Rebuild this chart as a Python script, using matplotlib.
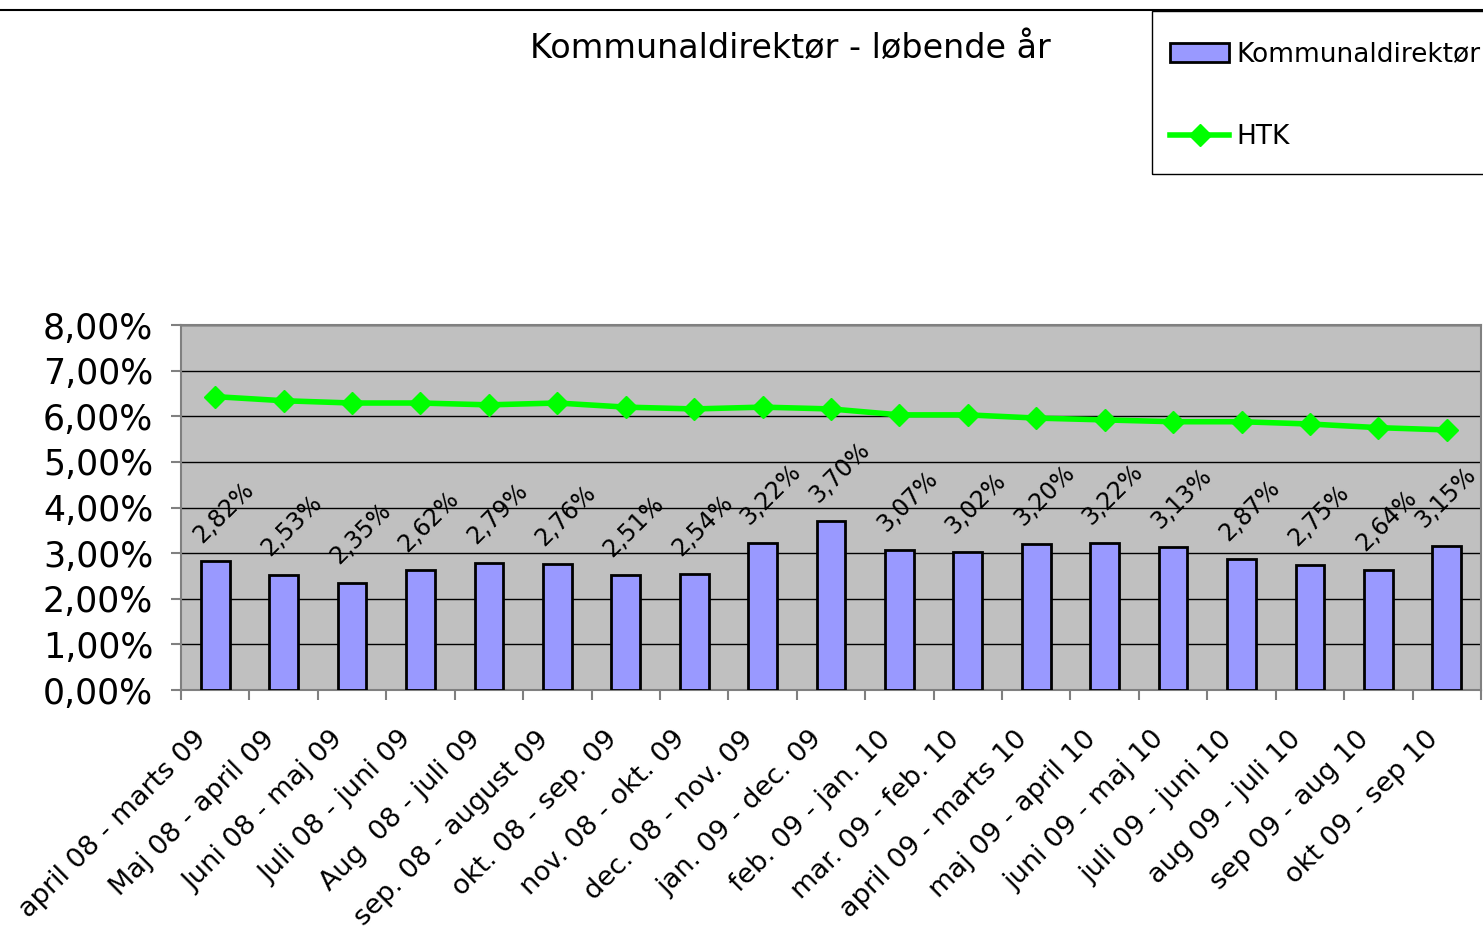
import matplotlib
matplotlib.use("Agg")
import matplotlib.pyplot as plt
from matplotlib.lines import Line2D
from matplotlib.patches import Patch, Rectangle
from matplotlib.transforms import ScaledTranslation
import numpy as np

categories = ["april 08 - marts 09", "Maj 08 - april 09", "Juni 08 - maj 09",
              "Juli 08 - juni 09", "Aug  08 - juli 09", "sep. 08 - august 09",
              "okt. 08 - sep. 09", "nov. 08 - okt. 09", "dec. 08 - nov. 09",
              "jan. 09 - dec. 09", "feb. 09 - jan. 10", "mar. 09 - feb. 10",
              "april 09 - marts 10", "maj 09 - april 10", "juni 09 - maj 10",
              "juli 09 - juni 10", "aug 09 - juli 10", "sep 09 - aug 10",
              "okt 09 - sep 10"]
kommunaldirektor = [2.82, 2.53, 2.35, 2.62, 2.79, 2.76, 2.51, 2.54, 3.22, 3.70,
                    3.07, 3.02, 3.20, 3.22, 3.13, 2.87, 2.75, 2.64, 3.15]
htk = [6.43, 6.34, 6.29, 6.29, 6.25, 6.29, 6.20, 6.16, 6.20, 6.16,
       6.03, 6.03, 5.96, 5.92, 5.88, 5.88, 5.83, 5.75, 5.70]

fig = plt.figure(figsize=(14.83, 9.31), dpi=100)
ax = fig.add_axes([181/1483, 1-690/931, 1300/1483, 365/931])
ax.set_facecolor("#C0C0C0")

x = np.arange(len(categories))
ax.bar(x, kommunaldirektor, width=0.42, color="#9999FF", edgecolor="black", lw=2, zorder=3)
ax.plot(x, htk, color="#00FF00", lw=4, marker="D", ms=11, zorder=4)

# data labels; the last one is nudged left so it stays inside the chart
for i, v in enumerate(kommunaldirektor):
    dx = -7 if i < len(kommunaldirektor) - 1 else -14
    ax.annotate(f"{v:.2f}%".replace(".", ","), (i, v), xytext=(dx, 10),
                textcoords="offset points", rotation=45, rotation_mode="anchor",
                ha="left", va="bottom", fontsize=17, zorder=5)

ax.set_xlim(-0.5, len(categories) - 0.5)
ax.set_ylim(0, 8)
ax.set_yticks(range(0, 9))
ax.set_yticklabels([f"{v},00%" for v in range(0, 9)], fontsize=25)
ax.yaxis.grid(True, color="black", lw=1, zorder=1)
ax.set_axisbelow(True)

ax.set_xticks(np.arange(-0.5, len(categories), 1))
ax.set_xticklabels([])
ax.set_xticks(x, minor=True)
ax.set_xticklabels(categories, minor=True, rotation=45, ha="right",
                   rotation_mode="anchor", fontsize=19.5)
ax.tick_params(axis="x", which="minor", length=0, pad=26)
ax.tick_params(axis="x", which="major", length=7, color="#808080", width=1.5)
ax.tick_params(axis="y", which="major", length=7, color="#808080", width=1.5, pad=13)
for lab in ax.get_xticklabels(minor=True):
    lab.set_transform(lab.get_transform() + ScaledTranslation(-0.22, 0, fig.dpi_scale_trans))

for s in ax.spines.values():
    s.set_color("#808080")
    s.set_linewidth(1.5)

fig.text(790/1483, 1-48/931, "Kommunaldirektør - løbende år", fontsize=24,
         ha="center", va="center")

# legend box drawn separately so the entries can sit lower inside it
fig.add_artist(Rectangle((1152/1483, 1-174/931), 340/1483, 163/931,
                         transform=fig.transFigure, fill=False,
                         edgecolor="black", lw=1, clip_on=False))
handles = [Patch(facecolor="#9999FF", edgecolor="black", lw=2),
           Line2D([], [], color="#00FF00", lw=4, marker="D", ms=11)]
fig.legend(handles, ["Kommunaldirektør", "HTK"], loc="upper left",
           bbox_to_anchor=(1152/1483, 1-23/931), fontsize=19, frameon=False,
           labelspacing=2.15, handlelength=2.2, handleheight=0.75,
           handletextpad=0.3, borderpad=0.7, borderaxespad=0)

fig.add_artist(Line2D([0, 1], [1-10/931, 1-10/931], color="black", lw=1.5))

fig.savefig("out.png", dpi=100)
